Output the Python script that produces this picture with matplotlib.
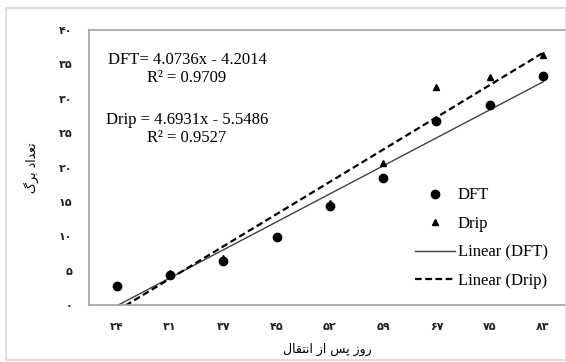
import matplotlib.pyplot as plt
from matplotlib.patches import Rectangle

# days after transplanting (Persian digits)
day_labels = ['۲۴', '۳۱', '۳۷', '۴۵', '۵۲', '۵۹', '۶۷', '۷۵', '۸۳']
y_labels = ['۰', '۵', '۱۰', '۱۵', '۲۰', '۲۵', '۳۰', '۳۵', '۴۰']
y_ticks = [0, 5, 10, 15, 20, 25, 30, 35, 40]

# leaf count per treatment
dft = [2.8, 4.4, 6.4, 9.9, 14.4, 18.5, 26.8, 29.1, 33.3]
drip = [2.8, 4.6, 6.8, 10.1, 14.8, 20.7, 31.7, 33.2, 36.4]

# trendline coefficients (slope, intercept) as printed on the chart
dft_fit = (4.0736, -4.2014)
drip_fit = (4.6931, -5.5486)

# axis titles, written in visual order with presentation forms
ylabel = '\u06AF\uFEAE\uFE91 \u062F\u0627\uFEAA\uFECC\uFE97'  # تعداد برگ
xlabel = '\u0644\uFE8E\uFED8\uFE98\uFEE7\u0627 \u0632\u0627 \uFEB2\uFB58 \u0632\u0648\u0631'  # روز پس از انتقال

serif = 'Liberation Serif'

fig = plt.figure(figsize=(5.66, 3.62), dpi=100)
fig.patch.set_facecolor('white')
fig.patches.append(Rectangle((6 / 566, 0.005), 0.99, 1 - 8 / 362 - 0.005,
                             transform=fig.transFigure, fill=False,
                             edgecolor='#d8d8d8', linewidth=1.2))

ax = fig.add_axes([89 / 566, 1 - 305 / 362, 1 - 89 / 566, (305 - 30) / 362])

x = list(range(1, len(day_labels) + 1))
ax.plot(x, dft, 'o', color='black', markersize=6, label='DFT', zorder=3)
ax.plot(x, drip, '^', color='black', markersize=5, label='Drip', zorder=3)

ends = [x[0], x[-1]]
ax.plot(ends, [dft_fit[0] * v + dft_fit[1] for v in ends], '-',
        color='#404040', linewidth=1.0, label='Linear (DFT)')
ax.plot(ends, [drip_fit[0] * v + drip_fit[1] for v in ends], '--',
        color='black', linewidth=1.6, dashes=(3, 1.6), label='Linear (Drip)')

ax.set_xlim(0.48, 9.43)
ax.set_ylim(0, 40)
ax.set_xticks(x)
ax.set_xticklabels(day_labels, fontsize=8, family='DejaVu Sans', weight='bold')
ax.set_yticks(y_ticks)
ax.set_yticklabels(y_labels, fontsize=8, family='DejaVu Sans', weight='bold')
ax.tick_params(length=0, pad=12, colors='#222222')
ax.tick_params(axis='y', pad=12)

for side in ['left', 'bottom', 'top']:
    ax.spines[side].set_color('#9aa2b2')
    ax.spines[side].set_linewidth(1.2)
ax.spines['right'].set_visible(False)

ax.set_ylabel(ylabel, fontsize=9, family='DejaVu Sans', labelpad=14)
ax.set_xlabel(xlabel, fontsize=9, family='DejaVu Sans', labelpad=8)

ax.text(187, 362 - 60, 'DFT= 4.0736x - 4.2014', transform=None, fontsize=12,
        family=serif, ha='center', va='center')
ax.text(187, 362 - 78, 'R² = 0.9709', transform=None, fontsize=12,
        family=serif, ha='center', va='center')
ax.text(187, 362 - 120, 'Drip = 4.6931x - 5.5486', transform=None, fontsize=12,
        family=serif, ha='center', va='center')
ax.text(187, 362 - 138, 'R² = 0.9527', transform=None, fontsize=12,
        family=serif, ha='center', va='center')

ax.legend(loc='upper left', bbox_to_anchor=(407 / 566, 1 - 179 / 362),
          bbox_transform=fig.transFigure, frameon=False,
          prop={'family': serif, 'size': 12}, handlelength=2.4,
          handletextpad=0.15, labelspacing=0.75, borderpad=0)

fig.savefig('out.png', dpi=100)
